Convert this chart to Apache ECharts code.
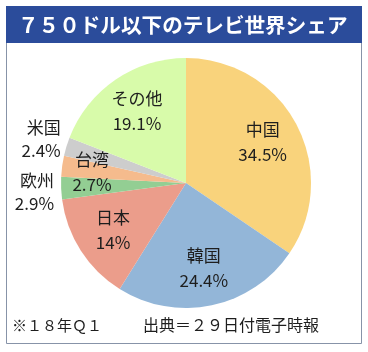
<!DOCTYPE html>
<html>
<head>
<meta charset="utf-8">
<script src="https://cdn.jsdelivr.net/npm/echarts@6/dist/echarts.min.js"></script>
<style>
  html, body { margin: 0; padding: 0; background: #fff; }
  #chart { width: 368px; height: 352px; }
</style>
</head>
<body>
<div id="chart"></div>
<script>
const regions = ['中国', '韓国', '日本', '欧州', '台湾', '米国', 'その他'];
const shares = [34.5, 24.4, 14, 2.9, 2.7, 2.4, 19.1];
const colors = ['#f9d37c', '#93b6d8', '#eb9d8b', '#93ce93', '#f5bb8d', '#cdcdcd', '#d8fbaa'];
// labels drawn outside the pie
const outsideNames = ['欧州', '米国'];

const FONT = '"Noto Sans CJK JP", "Noto Sans", sans-serif';
const CX = 186, CY = 183, R = 125;

const chart = echarts.init(document.getElementById('chart'));

const labelStyle = {
  fontFamily: FONT,
  fontSize: 17,
  lineHeight: 25,
  color: '#1e1e1e'
};

// small nudges so labels sit where the original has them
const labelNudge = {
  '米国': [7, -5],
  '欧州': [6, 4],
  '台湾': [-8, 1]
};

chart.setOption({
  animation: false,
  graphic: [
    {
      type: 'rect',
      shape: { x: 6.5, y: 6.5, width: 355, height: 337 },
      style: { fill: '#fff', stroke: '#8793a8', lineWidth: 1 },
      z: -10
    },
    {
      type: 'rect',
      shape: { x: 6, y: 6, width: 356, height: 37 },
      style: { fill: '#2b4c9b' },
      z: 0
    },
    {
      type: 'text',
      x: 18, y: 25,
      style: {
        text: '７５０ドル以下のテレビ世界シェア',
        fill: '#fff',
        font: 'bold 20.6px ' + FONT,
        verticalAlign: 'middle'
      },
      z: 1
    },
    {
      type: 'text',
      x: 12, y: 325,
      style: {
        text: '※１８年Ｑ１',
        fill: '#1e1e1e',
        font: '15px ' + FONT,
        verticalAlign: 'middle'
      }
    },
    {
      type: 'text',
      x: 143, y: 325,
      style: {
        text: '出典＝２９日付電子時報',
        fill: '#1e1e1e',
        font: '16px ' + FONT,
        verticalAlign: 'middle'
      }
    }
  ],
  series: [
    {
      // slices
      type: 'pie',
      center: [CX, CY],
      radius: [0, R],
      startAngle: 90,
      clockwise: true,
      avoidLabelOverlap: false,
      labelLayout: { hideOverlap: false },
      silent: true,
      itemStyle: { borderWidth: 0 },
      labelLine: { show: false, length: 8, length2: 0 },
      data: regions.map((n, i) => ({
        name: n,
        value: shares[i],
        itemStyle: { color: colors[i] },
        label: {
          show: outsideNames.includes(n),
          position: 'outside',
          formatter: '{b}\n{c}%',
          align: 'center',
          offset: labelNudge[n] || [0, 0],
          ...labelStyle,
          lineHeight: 23
        }
      }))
    },
    {
      // transparent twin, used only to place inner labels
      type: 'pie',
      center: [CX, CY],
      radius: [0, R * 1.34],
      startAngle: 90,
      clockwise: true,
      avoidLabelOverlap: false,
      labelLayout: { hideOverlap: false },
      silent: true,
      itemStyle: { color: 'rgba(0,0,0,0)' },
      labelLine: { show: false },
      data: regions.map((n, i) => ({
        name: n,
        value: shares[i],
        label: {
          show: !outsideNames.includes(n),
          position: 'inside',
          formatter: '{b}\n{c}%',
          offset: labelNudge[n] || [0, 0],
          ...labelStyle
        }
      }))
    }
  ]
});
</script>
</body>
</html>
